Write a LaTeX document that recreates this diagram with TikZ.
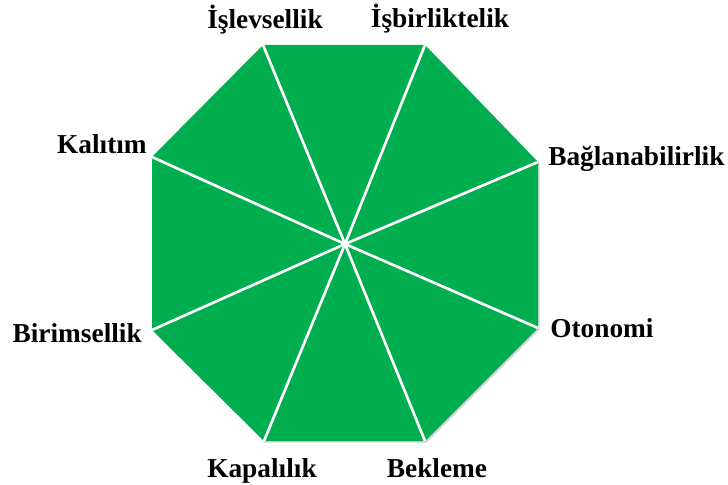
\documentclass[tikz,border=0pt]{standalone}
\usepackage{fontspec}
\setmainfont{Liberation Serif}
\usetikzlibrary{positioning, shadows}
\definecolor{octgreen}{RGB}{0,174,80}

\begin{document}
\begin{tikzpicture}[x=0.75pt, y=-0.75pt,
  lbl/.style={font=\bfseries\fontsize{20.5}{24}\selectfont, inner sep=0pt},
  spoke/.style={draw=white, line width=2pt}]
      \useasboundingbox (0,0) rectangle (728,485);
      % corners of the octagon
      \coordinate (v1) at (263,45);
      \coordinate (v2) at (425,45);
      \coordinate (v3) at (538,162);
      \coordinate (v4) at (538,328);
      \coordinate (v5) at (425,441);
      \coordinate (v6) at (264,441);
      \coordinate (v7) at (152,330);
      \coordinate (v8) at (152,157);
      \coordinate (c) at (345,244);
      \fill[octgreen, drop shadow={opacity=0.35, shadow xshift=1.2pt, shadow yshift=-1.2pt}]
        (v1) -- (v2) -- (v3) -- (v4) -- (v5) -- (v6) -- (v7) -- (v8) -- cycle;
      \foreach \v in {v1,v2,v3,v4,v5,v6,v7,v8}
        \draw[spoke] (c) -- (\v);
      % labels
      \node[lbl, anchor=base] (islev) at (265,29) {İşlevsellik};
      \node[lbl, anchor=base] (isbir) at (440,28) {İşbirliktelik};
      \node[lbl, anchor=base west] (baglan) at (548,165) {Bağlanabilirlik};
      \node[lbl, anchor=base west] (oto) at (550,337) {Otonomi};
      \node[lbl, anchor=base] (bekle) at (437,477) {Bekleme};
      \node[lbl, anchor=base] (kapali) at (262,477) {Kapalılık};
      \node[lbl, anchor=base east] (birim) at (142,342) {Birimsellik};
      \node[lbl, anchor=base east] (kalitim) at (147,153) {Kalıtım};
    \end{tikzpicture}
\end{document}
